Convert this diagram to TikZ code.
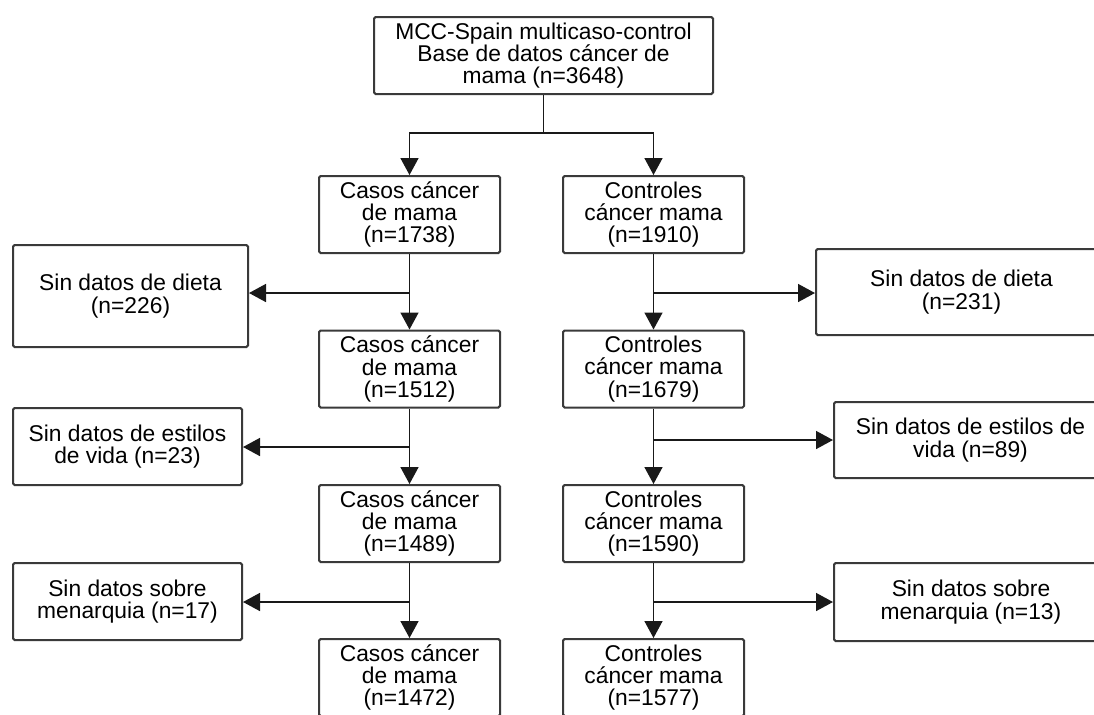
\documentclass[tikz,border=0pt]{standalone}
\usepackage{fontspec}
\setmainfont{Liberation Sans}
\usetikzlibrary{arrows.meta}
\definecolor{boxgray}{HTML}{3A3A3A}
\begin{document}
\begin{tikzpicture}[x=0.5pt,y=-0.5pt,
  box/.style={draw=boxgray, line width=1pt, rounded corners=0.8pt, align=center,
    inner sep=0pt, text=black, font=\fontsize{11.4}{11.2}\selectfont},
  wh/.style 2 args={minimum width=#1*0.5pt, minimum height=#2*0.5pt},
  flow/.style={draw=black!90, line width=0.8pt, -{Triangle[length=8.5pt,width=9pt]}},
  link/.style={draw=black!90, line width=0.8pt}]
\useasboundingbox (0,0) rectangle (1094,714);
\clip (0,0) rectangle (1094,714);

% source database
\node[box, wh={339}{77}] (top) at (543.5,55.5)
  {MCC-Spain multicaso-control\\Base de datos cáncer de\\mama (n=3648)};

% cases column
\node[box, wh={181}{77}] (ca1) at (409.5,214.5) {Casos cáncer\\de mama\\(n=1738)};
\node[box, wh={181}{77}] (ca2) at (409.5,369)   {Casos cáncer\\de mama\\(n=1512)};
\node[box, wh={181}{77}] (ca3) at (409.5,523.5) {Casos cáncer\\de mama\\(n=1489)};
\node[box, wh={181}{77}] (ca4) at (409.5,677.5) {Casos cáncer\\de mama\\(n=1472)};

% controls column
\node[box, wh={181}{77}] (co1) at (653.5,214.5) {Controles\\cáncer mama\\(n=1910)};
\node[box, wh={181}{77}] (co2) at (653.5,369)   {Controles\\cáncer mama\\(n=1679)};
\node[box, wh={181}{77}] (co3) at (653.5,523.5) {Controles\\cáncer mama\\(n=1590)};
\node[box, wh={181}{77}] (co4) at (653.5,677.5) {Controles\\cáncer mama\\(n=1577)};

% exclusions among cases
\node[box, wh={235}{102}] (ld) at (130.5,296)   {Sin datos de dieta\\(n=226)};
\node[box, wh={229}{77}]  (le) at (127.5,446.5) {Sin datos de estilos\\de vida (n=23)};
\node[box, wh={229}{77}]  (lm) at (127.5,601.5) {Sin datos sobre\\menarquia (n=17)};

% exclusions among controls
\node[box, wh={291}{86}] (rd) at (961.5,292) {Sin datos de dieta\\(n=231)};
\node[box, wh={273}{76}] (re) at (970.5,440) {Sin datos de estilos de\\vida (n=89)};
\node[box, wh={274}{78}] (rm) at (971,602)   {Sin datos sobre\\menarquia (n=13)};

% split of the database into cases and controls
\coordinate (split) at (543.5,133);
\draw[flow] (top.south) -- (split) -| (ca1.north);
\draw[flow] (split) -| (co1.north);

% main flow down each column
\draw[flow] (ca1) -- (ca2);
\draw[flow] (ca2) -- (ca3);
\draw[flow] (ca3) -- (ca4);
\draw[flow] (co1) -- (co2);
\draw[flow] (co2) -- (co3);
\draw[flow] (co3) -- (co4);

% branch points on the vertical flows
\coordinate (bl1) at (409.5,293);
\coordinate (bl2) at (409.5,447);
\coordinate (bl3) at (409.5,602);
\coordinate (br1) at (653.5,293);
\coordinate (br2) at (653.5,440);
\coordinate (br3) at (653.5,602);

\draw[flow] (bl1) -- (bl1 -| ld.east);
\draw[flow] (bl2) -- (bl2 -| le.east);
\draw[flow] (bl3) -- (bl3 -| lm.east);
\draw[flow] (br1) -- (br1 -| rd.west);
\draw[flow] (br2) -- (br2 -| re.west);
\draw[flow] (br3) -- (br3 -| rm.west);
\end{tikzpicture}
\end{document}
